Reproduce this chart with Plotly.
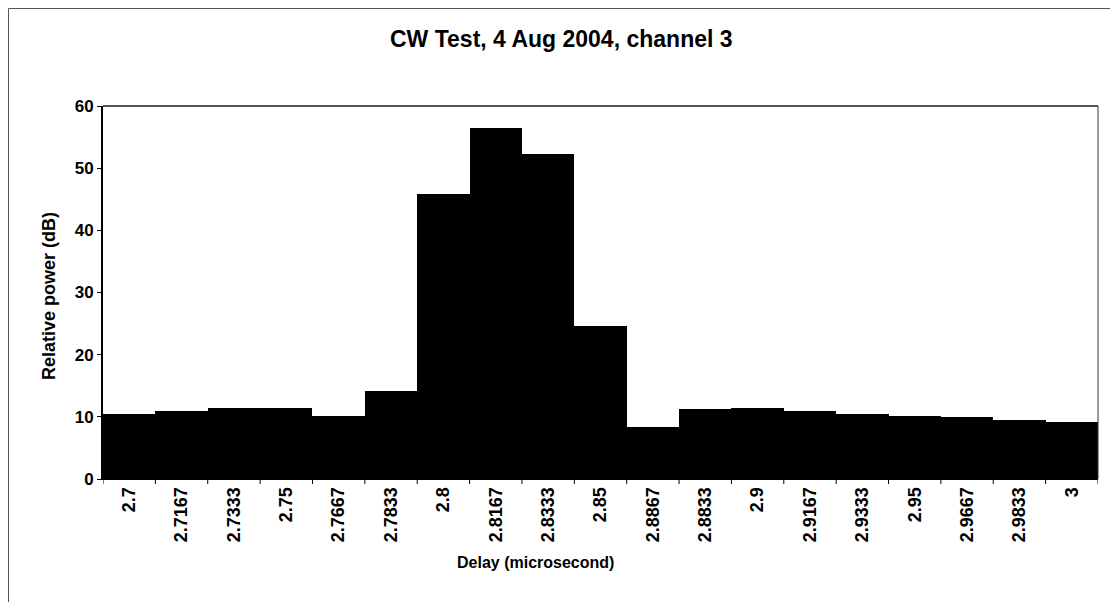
import plotly.graph_objects as go

# 지연 시간 (카테고리) 및 상대 전력 값
delay_labels = ["2.7", "2.7167", "2.7333", "2.75", "2.7667", "2.7833", "2.8", "2.8167",
                "2.8333", "2.85", "2.8867", "2.8833", "2.9", "2.9167", "2.9333", "2.95",
                "2.9667", "2.9833", "3"]
power_db = [10.4, 10.9, 11.4, 11.4, 10.2, 14.1, 45.9, 56.5, 52.2, 24.6, 8.4,
            11.2, 11.5, 11.0, 10.5, 10.2, 9.9, 9.5, 9.2]
y_ticks = [0, 10, 20, 30, 40, 50, 60]

FONT = "Liberation Sans, Arial, sans-serif"
# 페이지 body 여백(8px)을 감안한 크기/여백
OFF = 8
W, H = 1118 - OFF, 602 - OFF
L, R, T, B = 103 - OFF, 20, 106 - OFF, 602 - 479
PW, PH = W - L - R, H - T - B


def px_x(x):
    """화면 x 좌표 -> paper 좌표"""
    return (x - OFF - L) / PW


def px_y(y):
    """화면 y 좌표 -> paper 좌표"""
    return (H + OFF - B - y) / PH


fig = go.Figure()
fig.add_trace(go.Bar(
    x=list(range(len(delay_labels))), y=power_db,
    marker=dict(color="black", line=dict(width=0)),
    showlegend=False
))

fig.update_layout(
    width=W, height=H,
    margin=dict(l=L, r=R, t=T, b=B),
    paper_bgcolor="white", plot_bgcolor="white",
    bargap=0,
    font=dict(family=FONT, color="black"),
    xaxis=dict(
        tickmode="array", tickvals=list(range(len(delay_labels))),
        ticktext=[f"<b>{t}</b>" for t in delay_labels],
        tickangle=-90, tickfont=dict(size=18, family=FONT),
        range=[-0.5, len(delay_labels) - 0.5],
        ticks="", showgrid=False, zeroline=False, automargin=False,
        showline=True, linecolor="black", linewidth=1,
    ),
    yaxis=dict(
        range=[0, 60], tickvals=y_ticks, ticktext=[f"<b>{v}</b>" for v in y_ticks],
        tickfont=dict(size=17, family=FONT),
        ticks="outside", ticklen=4, tickcolor="black",
        showgrid=False, zeroline=False, automargin=False,
        showline=True, linecolor="black", linewidth=2,
    ),
    annotations=[
        dict(text="<b>CW Test, 4 Aug 2004, channel 3</b>", xref="paper", yref="paper",
             x=px_x(561), y=px_y(39), xanchor="center", yanchor="middle",
             showarrow=False, font=dict(size=23, family=FONT)),
        dict(text="<b>Delay (microsecond)</b>", xref="paper", yref="paper",
             x=px_x(535), y=px_y(562), xanchor="center", yanchor="middle",
             showarrow=False, font=dict(size=16, family=FONT)),
        dict(text="<b>Relative power (dB)</b>", xref="paper", yref="paper",
             x=px_x(49), y=px_y(296), xanchor="center", yanchor="middle",
             textangle=-90, showarrow=False, font=dict(size=18, family=FONT)),
    ],
    shapes=[
        # 플롯 영역 테두리 (상단/우측)
        dict(type="line", xref="paper", yref="paper", x0=0, x1=1, y0=1, y1=1,
             line=dict(color="#555555", width=2)),
        dict(type="line", xref="paper", yref="paper", x0=1, x1=1, y0=0, y1=1,
             line=dict(color="#333333", width=1)),
        # 차트 외곽 테두리
        dict(type="line", xref="paper", yref="paper",
             x0=px_x(8.5), x1=px_x(8.5), y0=px_y(602), y1=px_y(8.5),
             line=dict(color="#555555", width=1)),
        dict(type="line", xref="paper", yref="paper",
             x0=px_x(8.5), x1=px_x(1118), y0=px_y(8.5), y1=px_y(8.5),
             line=dict(color="#555555", width=1)),
    ],
)

# 범주 경계에 눈금 표시
for i in range(len(delay_labels) + 1):
    fig.add_shape(type="line", xref="x", yref="paper", x0=i - 0.5, x1=i - 0.5,
                  y0=0, y1=-5 / PH, line=dict(color="black", width=1))

fig.write_html("out.html")
